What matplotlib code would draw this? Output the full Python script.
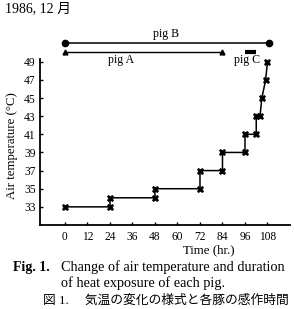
import matplotlib
matplotlib.use("Agg")
import matplotlib.pyplot as plt

# Data
time_h = [0, 24, 24, 48, 48, 72, 72, 84, 84, 96, 96, 102, 102, 104, 105, 107, 108]
temp_c = [33, 33, 34, 34, 35, 35, 37, 37, 39, 39, 41, 41, 43, 43, 45, 47, 49]
xticks = [0, 12, 24, 36, 48, 60, 72, 84, 96, 108]
yticks = [33, 35, 37, 39, 41, 43, 45, 47, 49]
pig_names = ["pig B", "pig A", "pig C"]
pig_start = [0, 0, 96]
pig_end = [109, 84, 102]
pig_level = [51.1, 50.1, 50.1]

serif = ['Liberation Serif', 'Noto Sans CJK JP']
plt.rcParams['font.family'] = serif

fig = plt.figure(figsize=(2.94, 3.09), dpi=100)
W, H = 294, 309
ax = fig.add_axes([40 / W, 1 - 225 / H, 250 / W, 195 / H])
ax.set_xlim(-13.3, 120)
ax.set_ylim(31.0, 52.5)

ax.plot(time_h, temp_c, color='black', lw=1.1, marker='X', ms=4.5,
        mfc='black', mec='black', mew=0.5, clip_on=False)

# pig exposure lines
ax.plot([pig_start[0], pig_end[0]], [pig_level[0]] * 2, color='black', lw=1.1,
        marker='o', ms=4.5, clip_on=False)
ax.plot([pig_start[1], pig_end[1]], [pig_level[1]] * 2, color='black', lw=1.0,
        clip_on=False)
ax.plot([pig_start[1], pig_end[1]], [pig_level[1]] * 2, ls='none', marker='^',
        ms=3.5, color='black', clip_on=False)
ax.plot([pig_start[2], pig_end[2]], [pig_level[2]] * 2, color='black', lw=3.0,
        solid_capstyle='butt', clip_on=False)

ax.text(54, pig_level[0] + 0.35, pig_names[0], ha='center', va='bottom', fontsize=8.6)
ax.text(30, pig_level[1] - 0.3, pig_names[1], ha='center', va='top', fontsize=8.6)
ax.text(97, pig_level[2] - 0.3, pig_names[2], ha='center', va='top', fontsize=8.6)

ax.spines['top'].set_visible(False)
ax.spines['right'].set_visible(False)
ax.spines['left'].set_bounds(31.0, 49.3)
ax.spines['left'].set_linewidth(1.3)
ax.spines['bottom'].set_linewidth(1.3)

ax.set_xticks(xticks)
ax.set_yticks(yticks)
ax.tick_params(direction='in', length=2.5, width=1, labelsize=8.3, pad=3)
ax.tick_params(axis='x', pad=4)

fig.text(12 / W, 1 - 146 / H, "Air temperature (°C)", rotation=90,
         ha='center', va='center', fontsize=9.2)
fig.text(209 / W, 1 - 250 / H, "Time (hr.)", ha='center', va='center', fontsize=9.3)

fig.text(5 / W, 1 - 9 / H, "1986, 12 月", ha='left', va='center', fontsize=10)

fig.text(13 / W, 1 - 267 / H, "Fig. 1.", ha='left', va='center', fontsize=10,
         fontweight='bold')
fig.text(61 / W, 1 - 267 / H, "Change of air temperature and duration",
         ha='left', va='center', fontsize=10.3)
fig.text(61 / W, 1 - 283.5 / H, "of heat exposure of each pig.",
         ha='left', va='center', fontsize=10.3)
fig.text(43 / W, 1 - 300.5 / H, "図 1.　 気温の変化の様式と各豚の感作時間",
         ha='left', va='center', fontsize=9.2)

fig.savefig("out.png", dpi=100)
